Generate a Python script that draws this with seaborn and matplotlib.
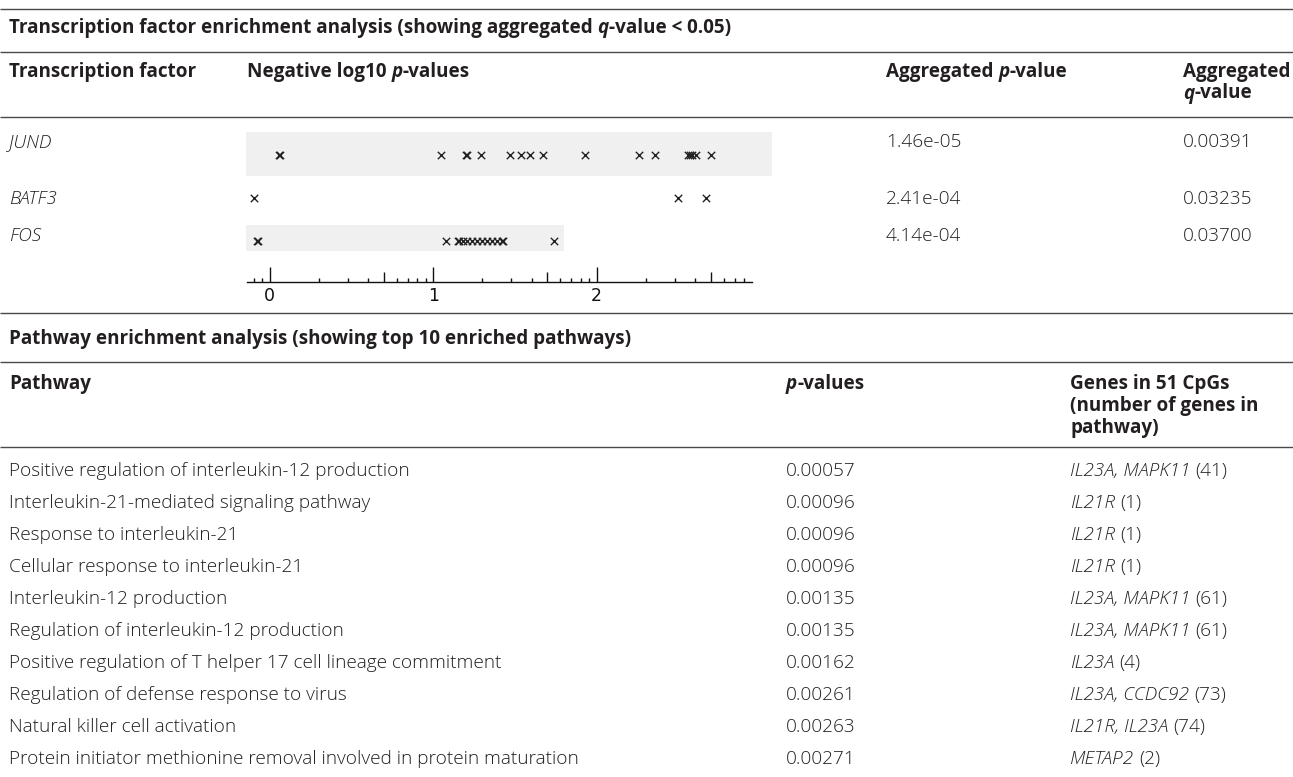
import numpy as np
import pandas as pd
import matplotlib
matplotlib.use("Agg")
import matplotlib.pyplot as plt
import seaborn as sns
from matplotlib.patches import Rectangle
from matplotlib.ticker import FixedLocator, NullFormatter

# ---------------- data ----------------
tf_names = ["JUND", "BATF3", "FOS"]
jund_nlp = [0.06, 0.065, 1.05, 1.20, 1.21, 1.29, 1.47, 1.535, 1.595, 1.67, 1.93,
            2.26, 2.355, 2.56, 2.57, 2.585, 2.61, 2.70]
batf3_nlp = [-0.095, 2.50, 2.67]
fos_nlp = [-0.075, -0.07, 1.08, 1.15, 1.16, 1.18, 1.21, 1.24, 1.27, 1.30, 1.33,
           1.36, 1.39, 1.42, 1.43, 1.74]
tf_agg_p = ["1.46e-05", "2.41e-04", "4.14e-04"]
tf_agg_q = ["0.00391", "0.03235", "0.03700"]

pathways = [
    "Positive regulation of interleukin-12 production",
    "Interleukin-21-mediated signaling pathway",
    "Response to interleukin-21",
    "Cellular response to interleukin-21",
    "Interleukin-12 production",
    "Regulation of interleukin-12 production",
    "Positive regulation of T helper 17 cell lineage commitment",
    "Regulation of defense response to virus",
    "Natural killer cell activation",
    "Protein initiator methionine removal involved in protein maturation",
]
pathway_p = ["0.00057", "0.00096", "0.00096", "0.00096", "0.00135",
             "0.00135", "0.00162", "0.00261", "0.00263", "0.00271"]
pathway_genes = ["IL23A, MAPK11", "IL21R", "IL21R", "IL21R", "IL23A, MAPK11",
                 "IL23A, MAPK11", "IL23A", "IL23A, CCDC92", "IL21R, IL23A", "METAP2"]
pathway_n = [41, 1, 1, 1, 61, 61, 4, 73, 74, 2]
axis_major = [0, 1, 2]

# ---------------- style ----------------
sns.set_style("white")
FAM = ["Open Sans", "DejaVu Sans"]
TXT = "#231f20"
RULE = "#4a4a4a"
W, H = 1293, 777

fig = plt.figure(figsize=(W / 100, H / 100), dpi=100)
tab = fig.add_axes([0, 0, 1, 1])
tab.set_xlim(0, W)
tab.set_ylim(H, 0)
tab.axis("off")
renderer = fig.canvas.get_renderer()


def text_w(s, size, weight, style):
    t = tab.text(0, 0, s, fontsize=size, fontweight=weight, fontstyle=style, family=FAM)
    w = t.get_window_extent(renderer=renderer).width
    t.remove()
    return w


body_size = 10 * 399 / text_w("Positive regulation of interleukin-12 production", 10, "light", "normal")
bold_size = 10 * 182 / text_w("Aggregated p-value", 10, "bold", "normal")


def runs(x, y, parts, size, weight):
    cx = x
    for s, it in parts:
        style = "italic" if it else "normal"
        sw = text_w("a a", size, weight, style) - text_w("aa", size, weight, style)
        lead = len(s) - len(s.lstrip(" "))
        trail = len(s) - len(s.rstrip(" "))
        core = s.strip(" ")
        cx += lead * sw
        if core:
            tab.text(cx, y, core, fontsize=size, fontweight=weight, fontstyle=style,
                     family=FAM, va="center", ha="left", color=TXT)
            cx += text_w(core, size, weight, style)
        cx += trail * sw


def body(x, y, parts):
    runs(x, y, parts, body_size, "light")


def bold(x, y, parts):
    runs(x, y, parts, bold_size, "bold")


# horizontal rules
for yy in [9, 51.7, 117, 313, 361.5, 446.7]:
    tab.plot([0, W], [yy, yy], color=RULE, lw=1.0, solid_capstyle="butt")

# --- transcription factor section ---
bold(9, 28, [("Transcription factor enrichment analysis (showing aggregated ", False),
             ("q", True), ("-value < 0.05)", False)])
bold(9, 72, [("Transcription factor", False)])
bold(247, 72, [("Negative log10 ", False), ("p", True), ("-values", False)])
bold(886, 72, [("Aggregated ", False), ("p", True), ("-value", False)])
bold(1183, 72, [("Aggregated", False)])
bold(1183, 93.5, [("q", True), ("-value", False)])

tf_text_y = [142, 199, 236]
for name, p, q, yy in zip(tf_names, tf_agg_p, tf_agg_q, tf_text_y):
    body(9, yy, [(name, True)])
    body(886, yy, [(p, False)])
    body(1183, yy, [(q, False)])

# --- pathway section ---
bold(9, 339, [("Pathway enrichment analysis (showing top 10 enriched pathways)", False)])
bold(9, 384, [("Pathway", False)])
bold(786, 384, [("p", True), ("-values", False)])
bold(1070, 384, [("Genes in 51 CpGs", False)])
bold(1070, 406, [("(number of genes in", False)])
bold(1070, 428, [("pathway)", False)])

for i, (pw, pv, g, n) in enumerate(zip(pathways, pathway_p, pathway_genes, pathway_n)):
    yy = 470.7 + 32 * i
    body(9, yy, [(pw, False)])
    body(786, yy, [(pv, False)])
    body(1070, yy, [(g, True), (f" ({n})", False)])

# --- strip of negative log10 p-values ---
df = pd.DataFrame({
    "tf": ["JUND"] * len(jund_nlp) + ["BATF3"] * len(batf3_nlp) + ["FOS"] * len(fos_nlp),
    "nlp": jund_nlp + batf3_nlp + fos_nlp,
})

px0, unit = 269.6, 163.55          # pixel of x=0, pixels per unit
xl = (-0.15, 3.1)
row0, rstep = 155.0, 43.0          # pixel of first row, pixels per row
top_px, bot_px = 125.0, 282.0
left_px = px0 + xl[0] * unit
right_px = px0 + xl[1] * unit
sax = fig.add_axes([left_px / W, 1 - bot_px / H, (right_px - left_px) / W, (bot_px - top_px) / H])
sax.set_facecolor("none")

sns.scatterplot(data=df, x="nlp", y="tf", marker="x", color="#222222", s=28,
                linewidth=1.0, ax=sax, zorder=3, legend=False)

sax.set_xlim(*xl)
sax.set_ylim((bot_px - row0) / rstep, (top_px - row0) / rstep)

# row shading
for x0, x1, y0, y1 in [(-0.144, 3.07, -0.542, 0.481), (-0.144, 1.80, 1.628, 2.226)]:
    sax.add_patch(Rectangle((x0, y0), x1 - x0, y1 - y0, facecolor="#f0f0f0",
                            edgecolor="none", zorder=0))

for sp in ["left", "top", "right"]:
    sax.spines[sp].set_visible(False)
sax.spines["bottom"].set_bounds(-0.137, 2.95)
sax.spines["bottom"].set_color("#111111")
sax.spines["bottom"].set_linewidth(1.0)
sax.set_yticks([])
sax.set_xlabel("")
sax.set_ylabel("")

minor = [np.log10(0.8), np.log10(0.9)]
minor += [k + np.log10(m) for k in (0, 1) for m in range(2, 10)]
minor += [2 + np.log10(m) for m in range(2, 9)]
sax.xaxis.set_major_locator(FixedLocator(axis_major))
sax.xaxis.set_minor_locator(FixedLocator(minor))
sax.xaxis.set_minor_formatter(NullFormatter())
sax.set_xticklabels([str(v) for v in axis_major], family="DejaVu Sans", fontsize=12.5, color="#111111")
sax.tick_params(axis="x", which="major", direction="in", length=10.5, width=1.0,
                color="#111111", pad=3.5, bottom=True)
sax.tick_params(axis="x", which="minor", direction="in", length=3.0, width=1.0,
                color="#111111", bottom=True)
for t, v in zip(sax.xaxis.get_minor_ticks(len(minor)), minor):
    if abs((v % 1) - np.log10(5)) < 1e-6:
        t.tick1line.set_markersize(7.0)

fig.savefig("out.png", dpi=100)
